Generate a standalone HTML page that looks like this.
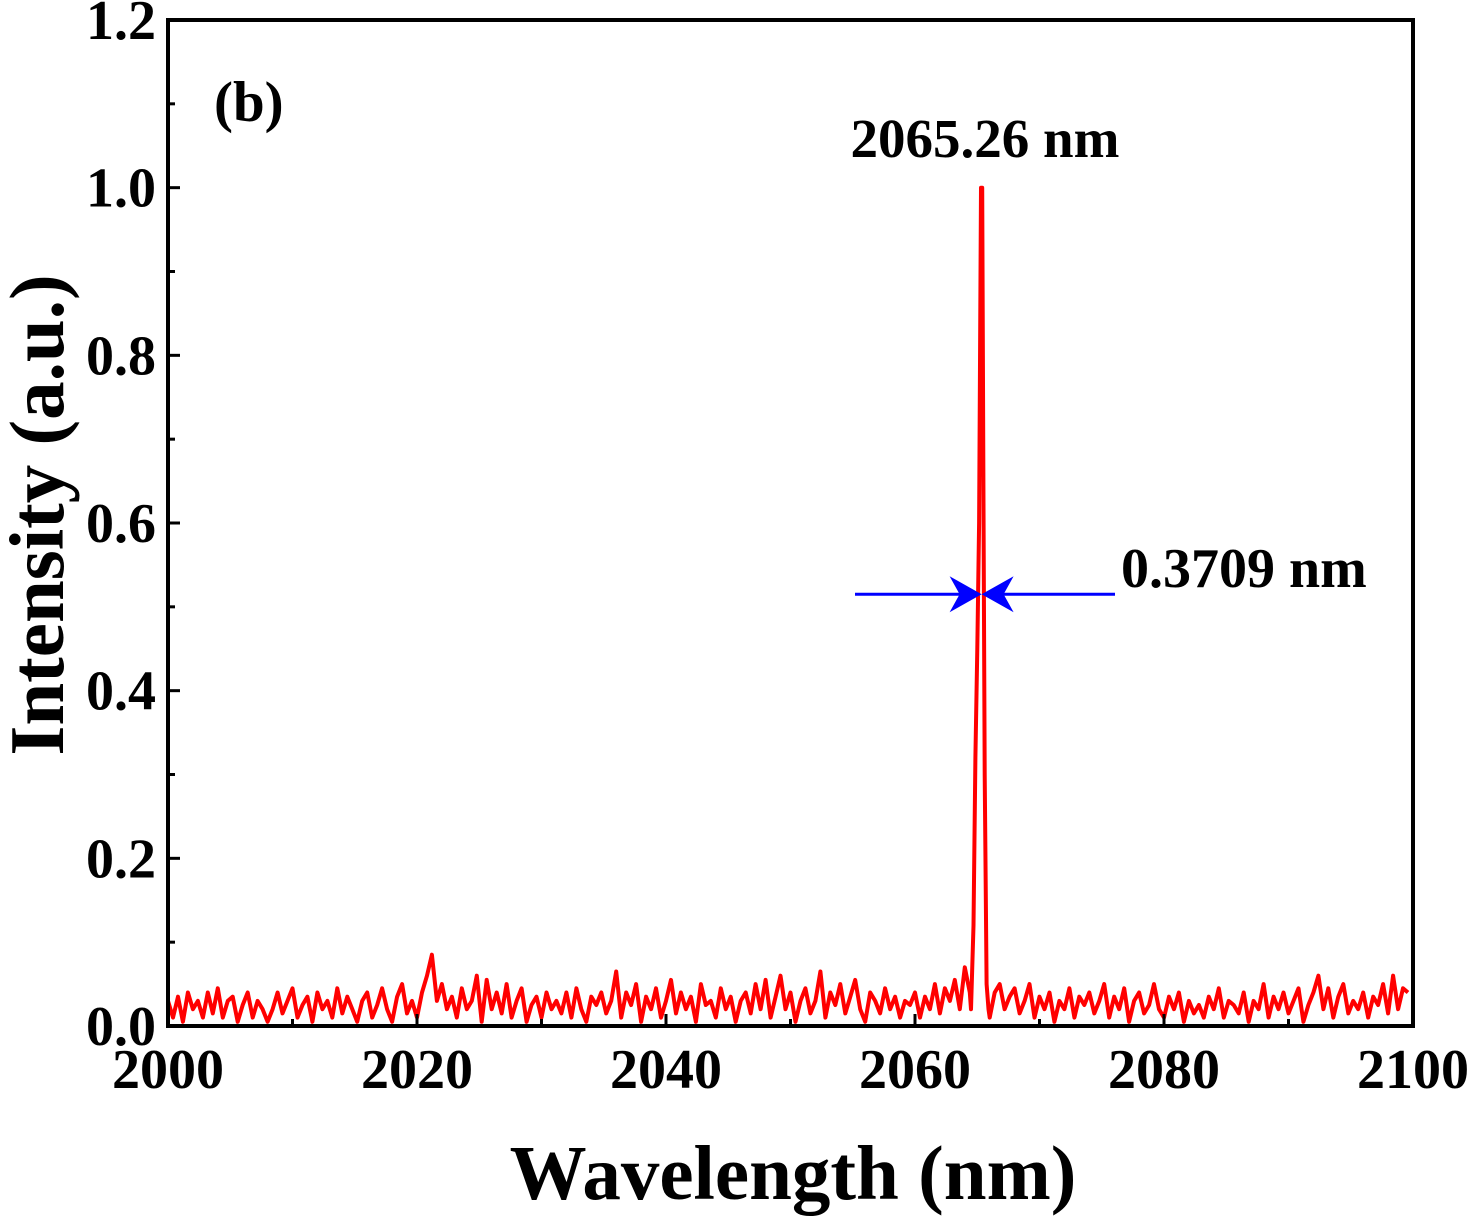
<!DOCTYPE html>
<html><head><meta charset="utf-8"><style>
body{margin:0;background:#fff}
svg{display:block;font-family:"Liberation Serif",serif;font-weight:bold}
</style></head><body>
<svg id="c" width="1472" height="1216" viewBox="0 0 1472 1216">
<rect width="1472" height="1216" fill="#fff"/>
<g id="plot"></g>
<g id="ax"></g>
<text x="214" y="121" font-size="57">(b)</text>
<text x="985" y="157" font-size="55" text-anchor="middle">2065.26 nm</text>
<text x="1121" y="587" font-size="56">0.3709 nm</text>
<text x="793" y="1199" font-size="77" text-anchor="middle">Wavelength (nm)</text>
<text transform="translate(63,515) rotate(-90)" font-size="77" text-anchor="middle">Intensity (a.u.)</text>
</svg>
<script>
const noiseStart = 2000;
const noiseStep = 0.4;
const noiseVals = [
.03,.01,.035,.005,.04,.02,.03,.01,.04,.015,
.045,.01,.03,.035,.005,.025,.04,.01,.03,.02,
.005,.02,.04,.015,.03,.045,.01,.025,.035,.005,
.04,.02,.03,.01,.045,.015,.035,.02,.005,.03,
.04,.01,.025,.045,.02,.005,.035,.05,.015,.03,
.01,.04,.06,.085,.03,.05,.02,.035,.01,.045,
.02,.03,.06,.005,.055,.02,.04,.015,.05,.01,
.03,.045,.005,.025,.035,.01,.04,.02,.03,.015,
.04,.01,.045,.02,.005,.035,.025,.04,.015,.03,
.065,.01,.04,.025,.05,.005,.035,.02,.045,.01,
.03,.055,.015,.04,.02,.035,.005,.05,.025,.03,
.01,.045,.02,.035,.005,.03,.04,.015,.05,.02,
.055,.01,.035,.06,.02,.04,.005,.03,.045,.015,
.03,.065,.01,.04,.025,.05,.015,.035,.055,.02,
.005,.04,.03,.015,.045,.02,.035,.01,.03,.025,
.04,.01,.035,.02,.05,.015,.045,.03,.055,.02,
.07,.04,.06,.03,.02,.01,.04,.05,.02,.035,
.045,.015,.03,.05,.01,.035,.02,.04,.005,.03,
.02,.045,.01,.035,.025,.04,.015,.03,.05,.01,
.035,.02,.045,.005,.03,.04,.015,.025,.05,.02,
.01,.035,.02,.04,.005,.03,.015,.025,.01,.035,
.02,.045,.01,.03,.025,.015,.04,.005,.03,.02,
.05,.01,.035,.02,.04,.015,.03,.045,.005,.025,
.04,.06,.02,.045,.01,.035,.05,.015,.03,.02,
.04,.01,.035,.025,.05,.015,.06,.02,.045,.04];
const peakWl  = [2064.5,2064.7,2064.85,2065.0,2065.15,2065.3,2065.4,2065.5,2065.6,2065.75,2065.9];
const peakVal = [0.02,0.12,0.32,0.45,0.6,1.0,1.0,0.62,0.3,0.05,0.02];
const xTicks = [2000,2020,2040,2060,2080,2100];
const yTicks = [0.0,0.2,0.4,0.6,0.8,1.0,1.2];
const fwhmLevel = 0.515;
const fwhmCenter = 2065.35;

const X0=168,X1=1413,Y0=1026,Y1=20;
const sx=w=>X0+(w-2000)/100*(X1-X0);
const sy=v=>Y0-v/1.2*(Y0-Y1);
const NS='http://www.w3.org/2000/svg';
const plot=document.getElementById('plot'), ax=document.getElementById('ax');
function mk(t,a,p){const e=document.createElementNS(NS,t);for(const k in a)e.setAttribute(k,a[k]);p.appendChild(e);return e;}

let pts=[];
noiseVals.forEach((v,i)=>{const w=noiseStart+i*noiseStep; if(w<2064.5||w>2065.9) pts.push([w,v]);});
peakWl.forEach((w,i)=>pts.push([w,peakVal[i]]));
pts.sort((a,b)=>a[0]-b[0]);
const line=mk('polyline',{points:pts.map(p=>sx(p[0]).toFixed(1)+','+sy(p[1]).toFixed(1)).join(' '),fill:'none',stroke:'#ff0000','stroke-width':4,'stroke-linejoin':'round'},plot);



const ay=sy(fwhmLevel), cx=sx(fwhmCenter);
const fl=mk('line',{x1:855,y1:ay,x2:cx-8,y2:ay,stroke:'#0000ff','stroke-width':3},plot);


const fr=mk('line',{x1:1115,y1:ay,x2:cx+8,y2:ay,stroke:'#0000ff','stroke-width':3},plot);


const hl=mk('path',{d:`M${cx},${ay} L${cx-32},${ay-18} L${cx-22},${ay} L${cx-32},${ay+18}Z`,fill:'#0000ff'},plot);


const hr=mk('path',{d:`M${cx},${ay} L${cx+32},${ay-18} L${cx+22},${ay} L${cx+32},${ay+18}Z`,fill:'#0000ff'},plot);



const fr2=mk('rect',{x:X0,y:Y1,width:X1-X0,height:Y0-Y1,fill:'none',stroke:'#000','stroke-width':4},ax);



for(let w=2000;w<=2100;w+=10){
  const major=xTicks.includes(w);
  const t=mk('line',{x1:sx(w),x2:sx(w),y1:Y0,y2:Y0-(major?12:7),stroke:'#000','stroke-width':3},ax);
  
  
}
xTicks.forEach(w=>{
  const t=mk('text',{x:sx(w),y:1088,'font-size':56,'text-anchor':'middle'},ax);
  t.textContent=w;
  
  
});
for(let i=0;i<=12;i++){
  const v=i/10, major=i%2===0;
  const t=mk('line',{x1:X0,x2:X0+(major?12:7),y1:sy(v),y2:sy(v),stroke:'#000','stroke-width':3},ax);
  
  
}
yTicks.forEach(v=>{
  const t=mk('text',{x:156,y:sy(v)+19,'font-size':56,'text-anchor':'end'},ax);
  t.textContent=v.toFixed(1);
  
  
});
</script>
</body></html>
